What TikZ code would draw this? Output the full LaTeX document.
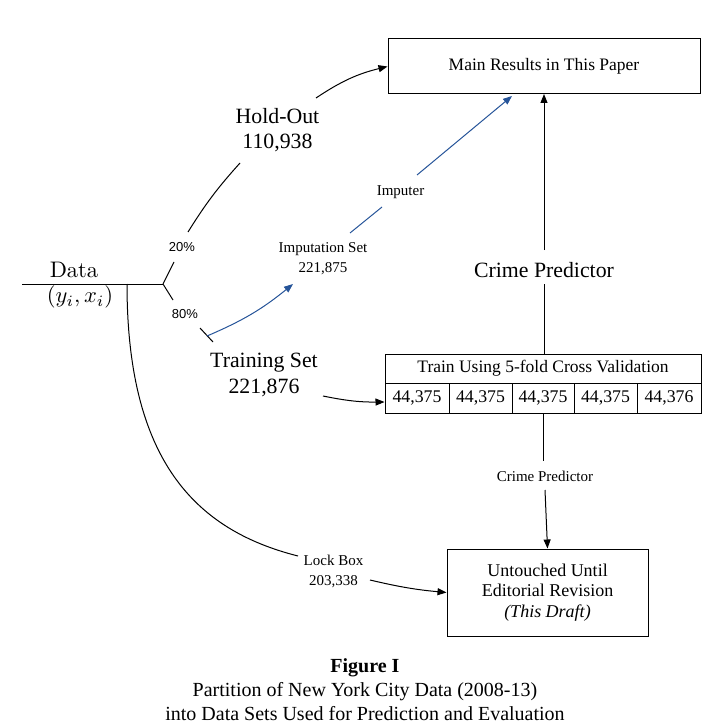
\documentclass[tikz,border=0pt]{standalone}
\usepackage{fontspec}
\newfontfamily\tnr{Liberation Serif}
\newfontfamily\arl{Liberation Sans}
\usetikzlibrary{arrows.meta}
\definecolor{impblue}{RGB}{38,84,153}
\tikzset{
 box/.style={draw, line width=1pt, inner sep=0pt, align=center},
 cell/.style={draw, line width=1pt, inner sep=0pt, minimum height=30pt, font=\tnr\fontsize{17.8}{20}\selectfont},
 big/.style={font=\tnr\fontsize{21.8}{25.5}\selectfont, align=center, inner sep=0pt},
 small/.style={font=\tnr\fontsize{15}{20}\selectfont, align=center, inner sep=0pt},
 pct/.style={font=\arl\fontsize{13}{15}\selectfont, inner sep=0pt},
 lmtext/.style={inner sep=0pt, font=\fontsize{10}{12}\selectfont},
 conn/.style={line width=1pt},
 arr/.style={conn, -{Triangle[length=9pt,width=7pt]}},
 blue arr/.style={arr, draw=impblue, -{Triangle[length=9pt,width=7pt,color=impblue]}},
}
\begin{document}
\begin{tikzpicture}[x=1pt,y=-1pt]
\useasboundingbox (0,0) rectangle (712,727);
% boxes
\node[box, minimum width=312pt, minimum height=55pt, font=\tnr\fontsize{17.5}{20}\selectfont] (main) at (544,66.5) {Main Results in This Paper};
\node[box, minimum width=316pt, minimum height=29pt, font=\tnr\fontsize{17.5}{20}\selectfont] (train) at (543,368.5) {Train Using 5-fold Cross Validation};
\node[cell, minimum width=64pt] (c1) at (417,398) {44,375};
\node[cell, minimum width=63pt] (c2) at (480.5,398) {44,375};
\node[cell, minimum width=62pt] (c3) at (543,398) {44,375};
\node[cell, minimum width=63pt] (c4) at (605.5,398) {44,375};
\node[cell, minimum width=64pt] (c5) at (669,398) {44,376};
\node[box, minimum width=201pt, minimum height=87pt, font=\tnr\fontsize{18}{20.8}\selectfont] (untouched) at (547.5,592.5) {Untouched Until\\Editorial Revision\\\textit{(This Draft)}};
% labels
\node[lmtext] (data) at (74,270) {\scalebox{2.25}{Data}};
\node[lmtext] (yx) at (80,297) {\scalebox{2.25}{$(y_i,x_i)$}};
\node[pct] (p20) at (182,247) {20\%};
\node[pct] (p80) at (185,314) {80\%};
\node[big] (holdout) at (277.5,130) {Hold-Out\\110,938};
\node[big] (trainset) at (264,375) {Training Set\\221,876};
\node[small] (impset) at (323,259) {Imputation Set\\221,875};
\node[small] (imputer) at (400.5,192) {Imputer};
\node[big] (cp) at (544,270) {Crime Predictor};
\node[small] (cp2) at (545,476) {Crime Predictor};
\node[small] (lockbox) at (333.5,571) {Lock Box\\203,338};
\node[font=\tnr\fontsize{20}{24}\selectfont, align=center, inner sep=0pt] (caption) at (365,690) {\textbf{Figure I}\\Partition of New York City Data (2008-13)\\into Data Sets Used for Prediction and Evaluation};
% coordinates
\coordinate (d0) at (22,284);
\coordinate (fork) at (163,284);
\coordinate (lb0) at (127,284);
\coordinate (fu) at (174,262);
\coordinate (fd) at (173,300);
\coordinate (t1) at (200,328);
\coordinate (t2) at (213,342);
\coordinate (bs) at (207,336);
\coordinate (bt) at (293,284);
\coordinate (h1) at (188,232);
\coordinate (h2) at (240,163);
\coordinate (h3) at (316,98);
\coordinate (i1) at (350,233);
\coordinate (i2) at (382,207);
\coordinate (i3) at (417,175);
\coordinate (itip) at (512,96);
\coordinate (ts) at (323,396);
\coordinate (lb1) at (298,556);
\coordinate (lb2) at (370,580);
% connectors
\draw[conn] (d0) -- (fork);
\draw[conn] (fork) -- (fu);
\draw[conn] (fork) -- (fd);
\draw[conn] (t1) -- (t2);
\draw[blue arr] (bs) to[bend right=8] (bt);
\draw[conn] (h1) to[bend left=5] (h2);
\draw[arr] (h3) to[bend left=10] (main.west);
\draw[conn, draw=impblue] (i1) -- (i2);
\draw[blue arr] (i3) -- (itip);
\draw[conn] (train.north -| cp) -- (cp.north |- 0,284);
\draw[arr] (544,250) -- (544,94);
\draw[conn] (c3.south) -- (543,461);
\draw[arr] (545,490) -- (untouched.north);
\draw[arr] (ts) to[bend right=6] ([yshift=-4pt]c1.west);
\draw[conn] (lb0) .. controls (127,460) and (195,530) .. (lb1);
\draw[arr] (lb2) to[bend right=4] (untouched.west);
\end{tikzpicture}
\end{document}
